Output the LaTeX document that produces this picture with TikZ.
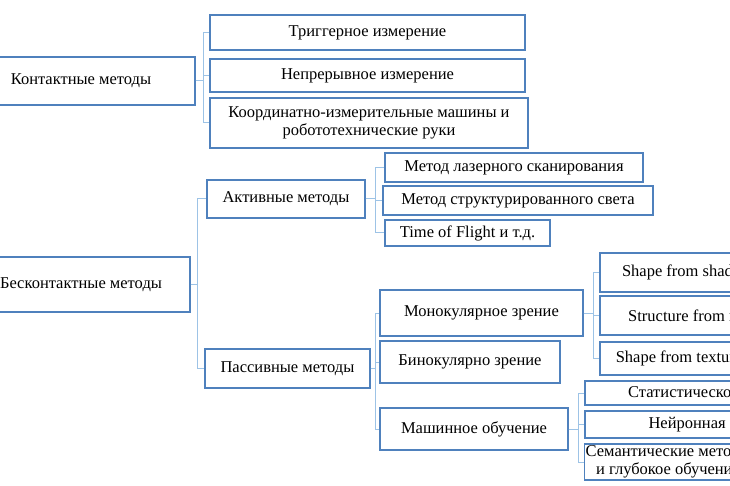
\documentclass[tikz,border=0pt]{standalone}
\usepackage{fontspec}
\setmainfont{Liberation Serif}
\usetikzlibrary{positioning}

\begin{document}
\begin{tikzpicture}[
  x=1pt, y=-1pt,
  box/.style={draw=boxblue, line width=1.3pt, fill=white, inner sep=1pt,
    font=\fontsize{16.5}{18}\selectfont, align=center},
  link/.style={draw=linkblue, line width=1pt}
]
  \definecolor{boxblue}{HTML}{4F81BD}
  \definecolor{linkblue}{HTML}{9DC3E6}
  \useasboundingbox (0,0) rectangle (730,486);
  \clip (0,0) rectangle (730,486);

  % left column
  \node[box, minimum width=228, minimum height=48] (contact) at (81,81) {Контактные методы};
  \node[box, minimum width=218, minimum height=55] (noncontact) at (81,284.5) {Бесконтактные методы};

  % contact methods
  \node[box, minimum width=315, minimum height=35] (trig) at (367.5,32.5) {Триггерное измерение};
  \node[box, minimum width=315, minimum height=33] (cont) at (367.5,75.5) {Непрерывное измерение};
  \node[box, minimum width=318, minimum height=50] (cmm) at (369,123) {Координатно-измерительные машины и\\ робототехнические руки};

  % non-contact methods
  \node[box, minimum width=158, minimum height=38] (active) at (286,199) {Активные методы};
  \node[box, minimum width=165, minimum height=39] (passive) at (287.5,368.5) {Пассивные методы};

  \node[box, minimum width=258, minimum height=29] (laser) at (514,167.5) {Метод лазерного сканирования};
  \node[box, minimum width=270, minimum height=29] (struct) at (518,200.5) {Метод структурированного света};
  \node[box, minimum width=165, minimum height=26] (tof) at (467.5,233) {Time of Flight и т.д.};

  \node[box, minimum width=203, minimum height=46] (mono) at (481.5,313) {Монокулярное зрение};
  \node[box, minimum width=180, minimum height=42] (bino) at (470,362) {Бинокулярно зрение};
  \node[box, minimum width=188, minimum height=42] (ml) at (474,429) {Машинное обучение};

  \node[box, minimum width=176, minimum height=39] (sfs) at (688,272.5) {Shape from shading};
  \node[box, minimum width=204, minimum height=39] (sfm) at (702,315.5) {Structure from motion};
  \node[box, minimum width=158, minimum height=33] (sft) at (679,358.5) {Shape from texture};

  \node[box, minimum width=266, minimum height=24] (stat) at (718,393) {Статистическое обучение};
  \node[box, minimum width=238, minimum height=27] (nn) at (704,424.5) {Нейронная сеть};
  \node[box, minimum width=166, minimum height=36] (sem) at (668,462) {Семантические методы\\ и глубокое обучение};

  % connectors
  \foreach \c in {trig,cont,cmm}
    \draw[link] (contact.east) -- ++(8,0) |- (\c.west);
  \foreach \c in {active,passive}
    \draw[link] (noncontact.east) -- ++(7,0) |- (\c.west);
  \foreach \c in {laser,struct,tof}
    \draw[link] (active.east) -- ++(10,0) |- (\c.west);
  \foreach \c in {mono,bino,ml}
    \draw[link] (passive.east) -- ++(5,0) |- (\c.west);
  \foreach \c in {sfs,sfm,sft}
    \draw[link] (mono.east) -- ++(10,0) |- (\c.west);
  \foreach \c in {stat,nn,sem}
    \draw[link] (ml.east) -- ++(10,0) |- (\c.west);
\end{tikzpicture}
\end{document}
